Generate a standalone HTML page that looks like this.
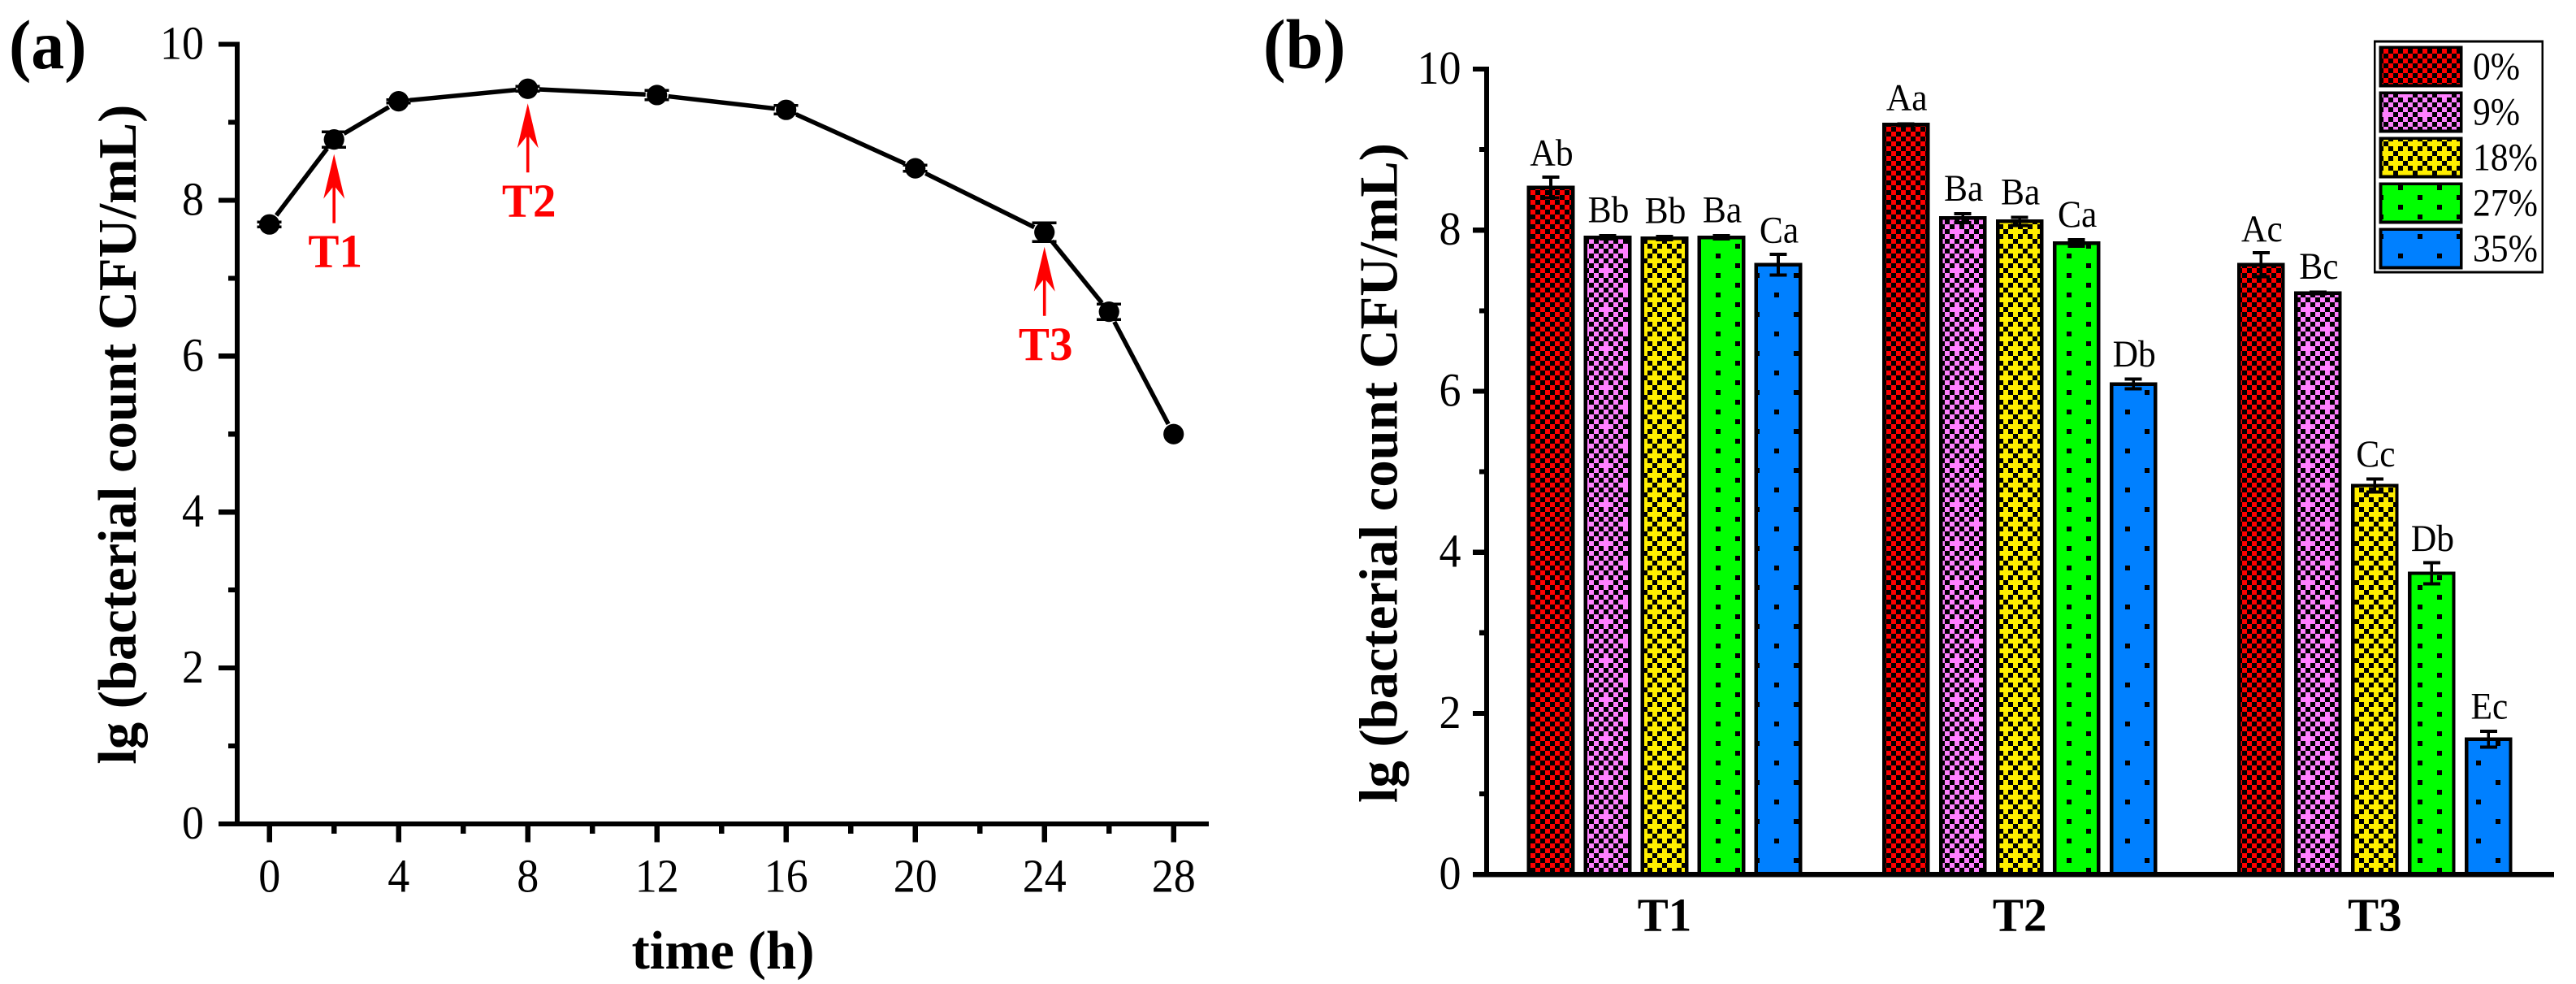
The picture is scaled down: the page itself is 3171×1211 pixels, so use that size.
<!DOCTYPE html>
<html lang="en">
<head>
<meta charset="utf-8">
<title>Bacterial count over time and by concentration</title>
<style>
html,body{margin:0;padding:0;background:#fff;}
body{width:3171px;height:1211px;overflow:hidden;}
svg{display:block;}
text{font-family:"Liberation Serif","Times New Roman",serif;}
</style>
</head>
<body>
<svg id="figure" xmlns="http://www.w3.org/2000/svg" width="3171" height="1211" viewBox="0 0 3171 1211">
  <rect x="0" y="0" width="3171" height="1211" fill="#ffffff"/>
  <defs id="defs"></defs>
  <g id="panelA"></g>
  <g id="panelB"></g>
  <text transform="translate(11,84) scale(1,1.05)" font-size="82" font-weight="bold">(a)</text>
  <text transform="translate(1555,84) scale(1,1.05)" font-size="83" font-weight="bold">(b)</text>
  <text transform="translate(167,534.7) rotate(-90)" font-size="66.6" font-weight="bold" text-anchor="middle">lg (bacterial count CFU/mL)</text>
  <text x="890" y="1192" font-size="67" font-weight="bold" text-anchor="middle">time (h)</text>
  <text transform="translate(1719.4,582) rotate(-90)" font-size="66.6" font-weight="bold" text-anchor="middle">lg (bacterial count CFU/mL)</text>
</svg>
<script>
// ---- Panel (a) data ----
const timeHours = [0, 2, 4, 8, 12, 16, 20, 24, 26, 28];
const lgCount = [7.69, 8.78, 9.27, 9.43, 9.35, 9.16, 8.41, 7.59, 6.57, 5.0];
const lgCountError = [0.03, 0.10, 0.02, 0.03, 0.06, 0.055, 0.04, 0.12, 0.10, 0.0];
const xTickLabelsA = [0, 4, 8, 12, 16, 20, 24, 28];
const xMinorTicksA = [2, 6, 10, 14, 18, 22, 26];
const arrowTimes = [2, 8, 24];
const arrowLabels = ['T1', 'T2', 'T3'];

// ---- Shared y ticks ----
const yTickLabels = [0, 2, 4, 6, 8, 10];
const yMinorTicks = [1, 3, 5, 7, 9];

// ---- Panel (b) data ----
const stages = ['T1', 'T2', 'T3'];
const concentrations = ['0%', '9%', '18%', '27%', '35%'];
const t1Values = [8.53, 7.91, 7.90, 7.91, 7.57];
const t2Values = [9.31, 8.15, 8.11, 7.84, 6.09];
const t3Values = [7.57, 7.22, 4.83, 3.74, 1.68];
const t1Errors = [0.13, 0.02, 0.02, 0.02, 0.13];
const t2Errors = [0.01, 0.055, 0.05, 0.04, 0.06];
const t3Errors = [0.15, 0.01, 0.08, 0.13, 0.10];
const t1Letters = ['Ab', 'Bb', 'Bb', 'Ba', 'Ca'];
const t2Letters = ['Aa', 'Ba', 'Ba', 'Ca', 'Db'];
const t3Letters = ['Ac', 'Bc', 'Cc', 'Db', 'Ec'];

const NS = 'http://www.w3.org/2000/svg';
const defs = document.getElementById('defs');
const panelA = document.getElementById('panelA');
const panelB = document.getElementById('panelB');

function make(tag, parent, attrs) {
  const el = document.createElementNS(NS, tag);
  for (const k in attrs) el.setAttribute(k, attrs[k]);
  parent.appendChild(el);
  return el;
}
function hline(parent, x1, x2, y, w, color) {
  return make('rect', parent, {x: x1, y: y - w / 2, width: x2 - x1, height: w, fill: color, 'shape-rendering': 'crispEdges'});
}
function vline(parent, x, y1, y2, w, color) {
  return make('rect', parent, {x: x - w / 2, y: y1, width: w, height: y2 - y1, fill: color, 'shape-rendering': 'crispEdges'});
}
function label(parent, x, y, str, size, weight, anchor, fill, sy) {
  const el = make('text', parent, {
    transform: 'translate(' + x + ',' + y + ') scale(1,' + sy + ')',
    'font-size': size, 'font-weight': weight, 'text-anchor': anchor, fill: fill
  });
  el.textContent = str;
  return el;
}

// ---- Fill patterns (bitmaps anchored to page origin) ----
function checkerPath(period, removed) {
  let d = '';
  const n = period / 6;
  for (let r = 0; r < n; r++) {
    for (let c = 0; c < n; c++) {
      if ((r + c) % 2 !== 0) continue;
      if (removed.some(function (p) { return p[0] === c * 6 && p[1] === r * 6; })) continue;
      d += 'M' + c * 6 + ' ' + r * 6 + 'h6v6h-6z';
    }
  }
  return d;
}
function dotPath(list) {
  return list.map(function (p) { return 'M' + p[0] + ' ' + p[1] + 'h6v6h-6z'; }).join('');
}
function addPattern(id, w, h, color, d) {
  const p = make('pattern', defs, {id: id, patternUnits: 'userSpaceOnUse', x: 0, y: 0, width: w, height: h});
  make('rect', p, {x: 0, y: 0, width: w, height: h, fill: color, 'shape-rendering': 'crispEdges'});
  make('path', p, {d: d, fill: '#000', 'shape-rendering': 'crispEdges'});
}
addPattern('fill0', 12, 12, '#ff0000', checkerPath(12, []));
addPattern('fill1', 48, 48, '#ff80ff', checkerPath(48, [[6, 42], [30, 18]]));
addPattern('fill2', 24, 24, '#ffee00', checkerPath(24, [[18, 6], [6, 18]]));
addPattern('fill3', 48, 24, '#00ff00', dotPath([[0, 0], [24, 12]]));
addPattern('fill4', 48, 48, '#0080ff', dotPath([[0, 0], [24, 24]]));

// ---- Axis functions ----
function xA(h) { return 331.7 + 39.75 * h; }
function yA(v) { return 1013.9 - 95.93 * v; }
function yB(v) { return 1076.2 - 99.12 * v; }
function xB(stage, series) { return 2049 + 437.2 * stage + 70 * (series - 2); }

// ---- Panel (a) axes ----
const axisYA = vline(panelA, 292, yA(10) - 3, yA(0) + 3, 6.4, '#000');


const axisXA = hline(panelA, 269, 1488, yA(0), 6.2, '#000');



yTickLabels.forEach(function (v) {
  const t = hline(panelA, 269, 292, yA(v), 6.2, '#000');
  
  
  const l = label(panelA, 251, yA(v) + 18, String(v), 54, 'normal', 'end', '#000', 1.08);
  
  
});
yMinorTicks.forEach(function (v) {
  const t = hline(panelA, 281, 292, yA(v), 6.2, '#000');
  
  
});
xTickLabelsA.forEach(function (h) {
  const t = vline(panelA, xA(h), yA(0), 1036.7, 6.2, '#000');
  
  
  const l = label(panelA, xA(h), 1097.7, String(h), 54, 'normal', 'middle', '#000', 1.08);
  
  
});
xMinorTicksA.forEach(function (h) {
  const t = vline(panelA, xA(h), yA(0), 1026, 6.2, '#000');
  
  
});

// ---- Panel (a) series ----
const MARKER_GAP = 14;
for (let i = 0; i < timeHours.length - 1; i++) {
  const x1 = xA(timeHours[i]), y1 = yA(lgCount[i]);
  const x2 = xA(timeHours[i + 1]), y2 = yA(lgCount[i + 1]);
  const len = Math.hypot(x2 - x1, y2 - y1);
  const ux = (x2 - x1) / len, uy = (y2 - y1) / len;
  const seg = make('line', panelA, {
    x1: x1 + ux * MARKER_GAP, y1: y1 + uy * MARKER_GAP,
    x2: x2 - ux * MARKER_GAP, y2: y2 - uy * MARKER_GAP,
    stroke: '#000', 'stroke-width': 5.5
  });
  
  
}
timeHours.forEach(function (h, i) {
  const cx = xA(h), v = lgCount[i], e = lgCountError[i];
  if (e > 0) {
    const g = make('g', panelA, {});
    
    
    vline(g, cx, yA(v + e), yA(v - e), 3.5, '#000');
    hline(g, cx - 15, cx + 15, yA(v + e), 3.5, '#000');
    hline(g, cx - 15, cx + 15, yA(v - e), 3.5, '#000');
  }
  const m = make('circle', panelA, {cx: cx, cy: yA(v), r: 12.6, fill: '#000'});
  
  
});

// ---- Panel (a) arrows ----
arrowTimes.forEach(function (h, i) {
  const idx = timeHours.indexOf(h);
  const x = xA(h), tip = yA(lgCount[idx]) + 18;
  const g = make('g', panelA, {});
  
  
  make('path', g, {
    d: 'M' + x + ' ' + tip + 'L' + (x + 13) + ' ' + (tip + 55) + 'L' + (x + 1.8) + ' ' + (tip + 41) +
       'V' + (tip + 85) + 'H' + (x - 1.8) + 'V' + (tip + 41) + 'L' + (x - 13) + ' ' + (tip + 55) + 'Z',
    fill: '#ff0000'
  });
  const t = label(panelA, x + 1.5, tip + 139, arrowLabels[i], 57, 'bold', 'middle', '#ff0000', 1.03);
  
  
});

// ---- Panel (b) axes ----
const axisYB = vline(panelB, 1830, yB(10) - 3, yB(0) + 3, 6.4, '#000');



yTickLabels.forEach(function (v) {
  const t = hline(panelB, 1812.8, 1830, yB(v), 6.2, '#000');
  
  
  const l = label(panelB, 1798.5, yB(v) + 18, String(v), 54, 'normal', 'end', '#000', 1.08);
  
  
});
yMinorTicks.forEach(function (v) {
  const t = hline(panelB, 1821, 1830, yB(v), 6.2, '#000');
  
  
});

// ---- Panel (b) bars ----
const BAR_WIDTH = 54.2, BAR_STROKE = 4.4;
const stageValues = [t1Values, t2Values, t3Values];
const stageErrors = [t1Errors, t2Errors, t3Errors];
const stageLetters = [t1Letters, t2Letters, t3Letters];
stages.forEach(function (stage, s) {
  concentrations.forEach(function (conc, c) {
    const v = stageValues[s][c], e = stageErrors[s][c];
    const cx = xB(s, c);
    const bar = make('rect', panelB, {
      x: cx - BAR_WIDTH / 2, y: yB(v), width: BAR_WIDTH, height: yB(0) - yB(v),
      fill: 'url(#fill' + c + ')', stroke: '#000', 'stroke-width': BAR_STROKE,
      'shape-rendering': 'crispEdges'
    });
    
    

    const g = make('g', panelB, {});
    
    
    vline(g, cx, yB(v + e), yB(v - e), 3.6, '#000');
    hline(g, cx - 10.5, cx + 10.5, yB(v + e), 4, '#000');
    hline(g, cx - 10.5, cx + 10.5, yB(v - e), 4, '#000');

    const errPx = yB(v) - yB(v + e);
    const t = label(panelB, cx + 1, yB(v) - 17 - 0.8 * errPx, stageLetters[s][c], 43.5, 'normal', 'middle', '#000', 1.07);
    
    
  });
  const st = label(panelB, xB(s, 2), 1145.6, stage, 57, 'bold', 'middle', '#000', 1.03);
  
  
});

const axisXB = hline(panelB, 1812.8, 3144, yB(0), 6.2, '#000');



// ---- Legend ----
const legend = make('g', panelB, {});


const legendBox = make('rect', legend, {x: 2923.3, y: 51, width: 206.4, height: 284, fill: '#fff', stroke: '#000', 'stroke-width': 2.6, 'shape-rendering': 'crispEdges'});


concentrations.forEach(function (conc, c) {
  const top = 56.3 + 56 * c;
  const sw = make('rect', legend, {
    x: 2930.5, y: top + 1.8, width: 99.4, height: 47.4,
    fill: 'url(#fill' + c + ')', stroke: '#000', 'stroke-width': 3.6,
    'shape-rendering': 'crispEdges'
  });
  
  
  const t = label(legend, 3044, top + 41, conc, 43.6, 'normal', 'start', '#000', 1.09);
  
  
});
</script>
</body>
</html>
